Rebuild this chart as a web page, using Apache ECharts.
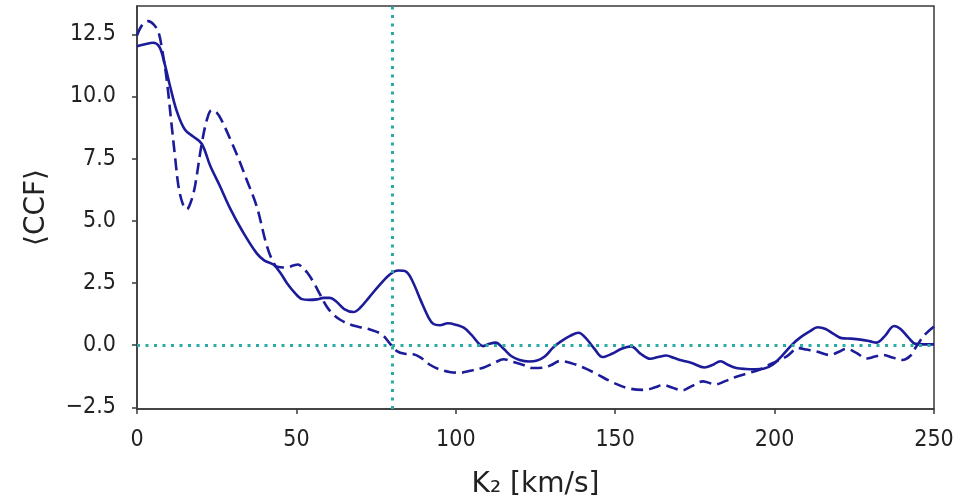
<!DOCTYPE html>
<html>
<head>
<meta charset="utf-8">
<script src="https://cdn.jsdelivr.net/npm/echarts@6/dist/echarts.min.js"></script>
<style>
html,body{margin:0;padding:0;background:#fff;}
#chart{width:975px;height:499px;}
</style>
</head>
<body>
<div id="chart"></div>
<script>
// K2 [km/s] sample positions and <CCF> values
const solidK = [0,2.5,5,7,8.5,10.4,12.5,15,17.5,20.3,23,26,29.2,33,37.5,40,42.8,45,47,49.5,51.7,54,56.4,58.5,60.5,62.5,65,67.9,70,73,76,79.4,82,84.5,86.5,89,91.5,93,95,97.5,100,102.5,105,108.5,110.5,112.5,115,117.5,120,123,125.5,128,130.5,133,136,138.5,141,143.5,146,149,152,155,158,161,163.5,166,168.5,171,174,178,180.5,183,185.5,188,191,194,196.5,199.5,202.5,205.5,208,211,213.5,216,218.5,221,224,227,230,232,234.5,237.5,239.5,242,244.2,247,250];
const solidV = [12.02,12.1,12.16,12.0,11.4,10.4,9.4,8.67,8.4,8.1,7.2,6.4,5.5,4.6,3.7,3.4,3.24,2.9,2.5,2.1,1.85,1.82,1.84,1.9,1.9,1.75,1.45,1.33,1.5,1.95,2.4,2.85,3.0,2.95,2.55,1.8,1.1,0.85,0.8,0.88,0.82,0.7,0.4,-0.04,0.05,0.1,-0.15,-0.45,-0.6,-0.66,-0.62,-0.45,-0.1,0.15,0.38,0.5,0.25,-0.15,-0.48,-0.35,-0.15,-0.05,-0.35,-0.55,-0.48,-0.42,-0.52,-0.62,-0.72,-0.9,-0.8,-0.65,-0.8,-0.92,-0.96,-0.97,-0.95,-0.78,-0.4,0.02,0.3,0.55,0.72,0.65,0.45,0.28,0.26,0.22,0.15,0.1,0.35,0.77,0.65,0.3,0.05,0.03,0.03];

const dashedK = [0,1.5,3.5,5.2,6.7,8,9.3,10.9,12,13,14.3,15.6,17,18.2,20.3,22,23.4,25,26.5,29.2,32,34.4,37.5,40.7,42.5,44,47,49,50.5,52,53.5,55.5,57.4,59.5,61.6,64,66.8,70,73,76.8,79.4,81.5,84,86.7,89,92,95,98,101.3,105,108.6,112,115,118,121.2,124,127.5,130,132.7,136,140,144,149.4,154.6,159.5,162.5,165.1,168,171,174,177.5,181.5,184.5,188,192,195.4,199,203.8,207.5,210,213,217.4,220,222.6,225.5,228.9,231.5,234.1,237,240,242.5,244.5,247,250];
const dashedV = [12.45,12.85,13.03,12.9,12.6,11.8,10.7,8.8,7.5,6.4,5.7,5.46,5.8,6.4,8.1,9.1,9.45,9.35,9.05,8.3,7.45,6.65,5.6,4.0,3.4,3.15,3.12,3.2,3.24,3.1,2.9,2.5,2.04,1.55,1.23,1.0,0.83,0.72,0.63,0.43,0.05,-0.24,-0.35,-0.37,-0.5,-0.8,-0.98,-1.08,-1.11,-1.02,-0.91,-0.72,-0.57,-0.68,-0.8,-0.92,-0.91,-0.8,-0.64,-0.72,-0.9,-1.15,-1.51,-1.75,-1.8,-1.7,-1.6,-1.72,-1.82,-1.65,-1.46,-1.58,-1.45,-1.27,-1.12,-0.98,-0.75,-0.45,-0.12,-0.18,-0.25,-0.4,-0.28,-0.15,-0.3,-0.54,-0.46,-0.4,-0.5,-0.6,-0.44,-0.05,0.4,0.75];

const yTicks = [-2.5, 0, 2.5, 5, 7.5, 10, 12.5];
const xTicks = [0, 50, 100, 150, 200, 250];
const markK = 80;     // vertical dotted line
const markCCF = 0;    // horizontal dotted line

const pairs = (ks, vs) => ks.map((k, i) => [k, vs[i]]);
const fmt = v => (v < 0 ? '\u2212' : '') + Math.abs(v).toFixed(1);

const chart = echarts.init(document.getElementById('chart'), null, {renderer: 'canvas'});
const lineColor = '#1c1c9a';
const dotColor = '#2aaca4';
const font = 'DejaVu Sans';
const tickFont = '"DejaVu Sans Condensed", "DejaVu Sans"';

chart.setOption({
  animation: false,
  backgroundColor: '#ffffff',
  grid: {left: 137, right: 41, top: 6, bottom: 90, show: true, borderColor: '#3a3a3a', borderWidth: 1.5, containLabel: false, outerBoundsMode: 'none'},
  xAxis: {
    type: 'value', min: xTicks[0], max: xTicks[xTicks.length - 1], interval: 50,
    name: 'K\u2082 [km/s]', nameLocation: 'middle', nameGap: 62,
    nameTextStyle: {fontFamily: font, fontSize: 28, color: '#222'},
    axisLine: {show: true, onZero: false, lineStyle: {color: '#3a3a3a', width: 1.5}},
    axisTick: {show: true, inside: false, length: 5, lineStyle: {color: '#3a3a3a', width: 1.5}},
    axisLabel: {fontFamily: tickFont, fontSize: 23, color: '#222', margin: 20},
    splitLine: {show: false}
  },
  yAxis: {
    type: 'value', min: -2.57, max: 13.64,
    name: '\u27E8CCF\u27E9', nameLocation: 'middle', nameGap: 86, nameRotate: 90,
    nameTextStyle: {fontFamily: font, fontSize: 28, color: '#222'},
    axisLine: {show: true, onZero: false, lineStyle: {color: '#3a3a3a', width: 1.5}},
    axisTick: {show: true, inside: false, length: 5, customValues: yTicks, lineStyle: {color: '#3a3a3a', width: 1.5}},
    axisLabel: {fontFamily: tickFont, fontSize: 23, color: '#222', margin: 21, customValues: yTicks, formatter: fmt},
    splitLine: {show: false}
  },
  series: [
    {
      type: 'line', data: pairs(solidK, solidV), showSymbol: false, smooth: 0.35,
      lineStyle: {color: lineColor, width: 2.6}, z: 3,
      markLine: {
        silent: true, symbol: ['none', 'none'], label: {show: false},
        lineStyle: {color: dotColor, width: 3, type: [3, 5.5]},
        data: [{xAxis: markK}, {yAxis: markCCF}]
      }
    },
    {
      type: 'line', data: pairs(dashedK, dashedV), showSymbol: false, smooth: 0.35,
      lineStyle: {color: lineColor, width: 2.6, type: [12, 6]}, z: 3
    }
  ]
});
</script>
</body>
</html>
